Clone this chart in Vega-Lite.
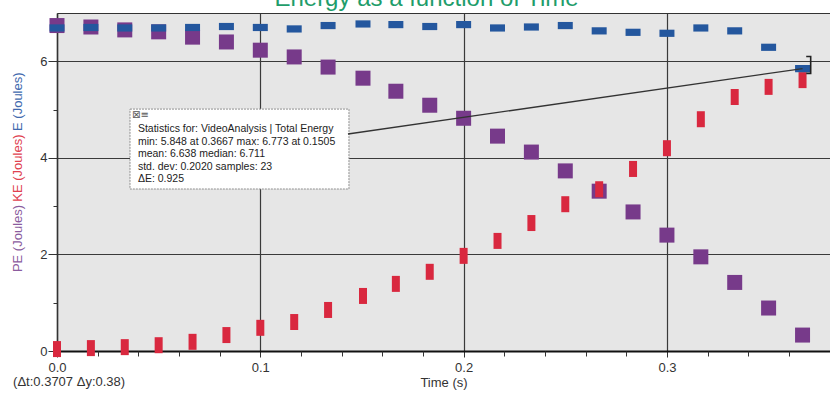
{
  "$schema": "https://vega.github.io/schema/vega-lite/v6.json",
  "width": 773,
  "height": 338,
  "padding": {"left": 57, "top": 13, "right": 0, "bottom": 45},
  "autosize": {"type": "none"},
  "background": "white",
  "title": {"text": "Energy as a function of Time", "color": "#1f9d6b", "fontSize": 24, "font": "Liberation Sans", "fontWeight": "normal", "anchor": "middle", "offset": -17, "dx": -17, "baseline": "alphabetic"},
  "config": {
    "view": {"fill": "#e6e6e6", "stroke": null},
    "font": "Liberation Sans",
    "axis": {"labelFont": "Liberation Sans", "titleFont": "Liberation Sans"}
  },
  "datasets": {
    "energy": [
      {"t": 0.0, "PE": 6.74, "KE": 0.04, "E": 6.69},
      {"t": 0.01667, "PE": 6.71, "KE": 0.06, "E": 6.70},
      {"t": 0.03333, "PE": 6.65, "KE": 0.08, "E": 6.69},
      {"t": 0.05, "PE": 6.61, "KE": 0.12, "E": 6.69},
      {"t": 0.06667, "PE": 6.50, "KE": 0.19, "E": 6.70},
      {"t": 0.08333, "PE": 6.40, "KE": 0.33, "E": 6.72},
      {"t": 0.1, "PE": 6.23, "KE": 0.48, "E": 6.70},
      {"t": 0.11667, "PE": 6.09, "KE": 0.60, "E": 6.67},
      {"t": 0.13333, "PE": 5.88, "KE": 0.85, "E": 6.74},
      {"t": 0.1505, "PE": 5.65, "KE": 1.14, "E": 6.773},
      {"t": 0.16667, "PE": 5.38, "KE": 1.39, "E": 6.76},
      {"t": 0.18333, "PE": 5.09, "KE": 1.64, "E": 6.72},
      {"t": 0.2, "PE": 4.82, "KE": 1.97, "E": 6.76},
      {"t": 0.21667, "PE": 4.45, "KE": 2.28, "E": 6.69},
      {"t": 0.23333, "PE": 4.12, "KE": 2.65, "E": 6.71},
      {"t": 0.25, "PE": 3.73, "KE": 3.04, "E": 6.74},
      {"t": 0.26667, "PE": 3.31, "KE": 3.35, "E": 6.63},
      {"t": 0.28333, "PE": 2.88, "KE": 3.77, "E": 6.60},
      {"t": 0.3, "PE": 2.40, "KE": 4.20, "E": 6.58},
      {"t": 0.31667, "PE": 1.95, "KE": 4.80, "E": 6.69},
      {"t": 0.33333, "PE": 1.42, "KE": 5.26, "E": 6.63},
      {"t": 0.35, "PE": 0.89, "KE": 5.47, "E": 6.29},
      {"t": 0.3667, "PE": 0.33, "KE": 5.61, "E": 5.848}
    ],
    "box": [{"t0": 0.0359, "t1": 0.1436, "v0": 3.355, "v1": 5.01}],
    "stats": [{"t": 0.0398, "v": 4.535, "text": "Statistics for: VideoAnalysis | Total Energy\nmin: 5.848 at 0.3667 max: 6.773 at 0.1505\nmean: 6.638 median: 6.711\nstd. dev: 0.2020 samples: 23\nΔE: 0.925"}],
    "icon": [{"t": 0.0369, "v": 4.89, "text": "⊠≡"}],
    "pointer": [{"t": 0.1431, "v": 4.494, "o": 1}, {"t": 0.3667, "v": 5.848, "o": 2}],
    "bracket": [{"t": 0.3685, "v": 6.10, "o": 1}, {"t": 0.3707, "v": 6.10, "o": 2}, {"t": 0.3707, "v": 5.75, "o": 3}, {"t": 0.3685, "v": 5.75, "o": 4}],
    "note": [{"t": -0.0216, "v": -0.642, "text": "(Δt:0.3707 Δy:0.38)"}]
  },
  "resolve": {"axis": {"x": "independent", "y": "independent"}},
  "layer": [
    {
      "data": {"name": "energy"},
      "mark": {"type": "point", "shape": "square", "filled": true, "size": 225, "color": "#773a8a", "opacity": 1},
      "encoding": {
        "x": {"field": "t", "type": "quantitative", "scale": {"domain": [0, 0.3802], "nice": false, "zero": false},
          "axis": {"orient": "bottom", "values": [0, 0.1, 0.2, 0.3], "format": ".1f", "labelFlush": false, "grid": true, "gridColor": "#3a3a3a", "gridWidth": 1.2, "gridOpacity": 1, "tickSize": 6, "tickColor": "#333", "domainColor": "#111", "domainWidth": 2, "labelFontSize": 13, "labelColor": "#333", "labelPadding": 4, "title": "Time (s)", "titleFontSize": 13, "titleFontWeight": "normal", "titleColor": "#333", "titleY": 31, "titleBaseline": "middle"}},
        "y": {"field": "PE", "type": "quantitative", "scale": {"domain": [0, 7], "nice": false, "zero": false},
          "axis": {"orient": "left", "values": [0, 2, 4, 6], "grid": true, "gridColor": "#3a3a3a", "gridWidth": 1.2, "gridOpacity": 1, "tickSize": 9, "tickColor": "#333", "domainColor": "#333", "domainWidth": 1.5, "labelFontSize": 13, "labelColor": "#333", "labelPadding": 1, "title": "PE (Joules)", "titleColor": "#8b5c9e", "titleFontSize": 13, "titleFontWeight": "normal", "titleAngle": -90, "titleX": -40, "titleY": 225, "titleBaseline": "middle", "titleAlign": "center"}}
      }
    },
    {
      "data": {"name": "energy"},
      "mark": {"type": "point", "shape": "M-0.5,-1H0.5V1H-0.5Z", "filled": true, "size": 256, "color": "#d9283f", "opacity": 1},
      "encoding": {
        "x": {"field": "t", "type": "quantitative", "scale": {"domain": [0, 0.3802], "nice": false, "zero": false},
          "axis": {"orient": "bottom", "values": [0.02, 0.04, 0.06, 0.08, 0.12, 0.14, 0.16, 0.18, 0.22, 0.24, 0.26, 0.28, 0.32, 0.34, 0.36], "labels": false, "grid": false, "domain": false, "tickSize": 5, "tickColor": "#333", "title": null}},
        "y": {"field": "KE", "type": "quantitative", "scale": {"domain": [0, 7], "nice": false, "zero": false},
          "axis": {"orient": "left", "values": [1, 3, 5], "labels": false, "grid": false, "domain": false, "tickSize": 4, "tickColor": "#333", "title": "KE (Joules)", "titleColor": "#e0414f", "titleFontSize": 13, "titleFontWeight": "normal", "titleAngle": -90, "titleX": -40, "titleY": 154.6, "titleBaseline": "middle", "titleAlign": "center"}}
      }
    },
    {
      "data": {"name": "energy"},
      "mark": {"type": "point", "shape": "M-1,-0.48H1V0.48H-1Z", "filled": true, "size": 225, "color": "#24579e", "opacity": 1},
      "encoding": {
        "x": {"field": "t", "type": "quantitative", "scale": {"domain": [0, 0.3802], "nice": false, "zero": false},
          "axis": {"orient": "top", "labels": false, "ticks": false, "grid": false, "domainColor": "#333", "domainWidth": 1.2, "title": null}},
        "y": {"field": "E", "type": "quantitative", "scale": {"domain": [0, 7], "nice": false, "zero": false},
          "axis": {"orient": "left", "labels": false, "ticks": false, "grid": false, "domain": false, "title": "E (Joules)", "titleColor": "#4169ad", "titleFontSize": 13, "titleFontWeight": "normal", "titleAngle": -90, "titleX": -40, "titleY": 88.2, "titleBaseline": "middle", "titleAlign": "center"}}
      }
    },
    {
      "data": {"name": "box"},
      "mark": {"type": "rect", "fill": "white", "stroke": "#8f8f8f", "strokeWidth": 1, "strokeDash": [2, 1]},
      "encoding": {
        "x": {"field": "t0", "type": "quantitative", "scale": {"domain": [0, 0.3802], "nice": false, "zero": false}, "axis": null},
        "x2": {"field": "t1"},
        "y": {"field": "v0", "type": "quantitative", "scale": {"domain": [0, 7], "nice": false, "zero": false}, "axis": null},
        "y2": {"field": "v1"}
      }
    },
    {
      "data": {"name": "stats"},
      "mark": {"type": "text", "align": "left", "baseline": "alphabetic", "fontSize": 10.5, "lineHeight": 12.5, "lineBreak": "\n", "color": "#222", "font": "Liberation Sans"},
      "encoding": {
        "x": {"field": "t", "type": "quantitative", "scale": {"domain": [0, 0.3802], "nice": false, "zero": false}, "axis": null},
        "y": {"field": "v", "type": "quantitative", "scale": {"domain": [0, 7], "nice": false, "zero": false}, "axis": null},
        "text": {"field": "text"}
      }
    },
    {
      "data": {"name": "icon"},
      "mark": {"type": "text", "align": "left", "baseline": "middle", "fontSize": 10, "color": "#555", "font": "DejaVu Sans"},
      "encoding": {
        "x": {"field": "t", "type": "quantitative", "scale": {"domain": [0, 0.3802], "nice": false, "zero": false}, "axis": null},
        "y": {"field": "v", "type": "quantitative", "scale": {"domain": [0, 7], "nice": false, "zero": false}, "axis": null},
        "text": {"field": "text"}
      }
    },
    {
      "data": {"name": "pointer"},
      "mark": {"type": "line", "color": "#333", "strokeWidth": 1.3},
      "encoding": {
        "x": {"field": "t", "type": "quantitative", "scale": {"domain": [0, 0.3802], "nice": false, "zero": false}, "axis": null},
        "y": {"field": "v", "type": "quantitative", "scale": {"domain": [0, 7], "nice": false, "zero": false}, "axis": null},
        "order": {"field": "o"}
      }
    },
    {
      "data": {"name": "bracket"},
      "mark": {"type": "line", "color": "#222", "strokeWidth": 1.6},
      "encoding": {
        "x": {"field": "t", "type": "quantitative", "scale": {"domain": [0, 0.3802], "nice": false, "zero": false}, "axis": null},
        "y": {"field": "v", "type": "quantitative", "scale": {"domain": [0, 7], "nice": false, "zero": false}, "axis": null},
        "order": {"field": "o"}
      }
    },
    {
      "data": {"name": "note"},
      "mark": {"type": "text", "align": "left", "baseline": "middle", "fontSize": 13, "color": "#333", "font": "Liberation Sans"},
      "encoding": {
        "x": {"field": "t", "type": "quantitative", "scale": {"domain": [0, 0.3802], "nice": false, "zero": false}, "axis": null},
        "y": {"field": "v", "type": "quantitative", "scale": {"domain": [0, 7], "nice": false, "zero": false}, "axis": null},
        "text": {"field": "text"}
      }
    }
  ]
}
